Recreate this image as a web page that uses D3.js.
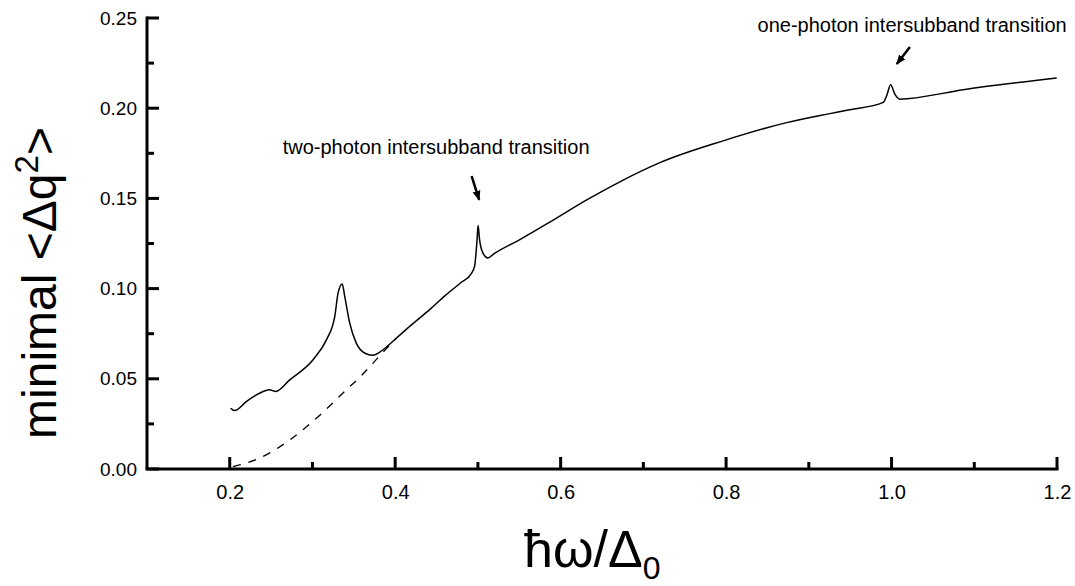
<!DOCTYPE html>
<html>
<head>
<meta charset="utf-8">
<script src="https://cdn.jsdelivr.net/npm/d3@7/dist/d3.min.js"></script>
<style>
  body { margin: 0; background: #fff; }
  svg { display: block; font-family: "Liberation Sans", Arial, sans-serif; }
</style>
</head>
<body>
<svg id="chart"></svg>
<script>
// solid curve: minimal <dq^2> vs hw/D0
const solidX = [0.201, 0.206, 0.220, 0.236, 0.248, 0.2556, 0.2725, 0.3007, 0.317, 0.327, 0.331, 0.336, 0.339,
  0.345, 0.353, 0.363, 0.373, 0.3853, 0.4016, 0.42, 0.442, 0.46, 0.48, 0.4922, 0.496, 0.499, 0.5002, 0.502, 0.506,
  0.512, 0.52, 0.5507, 0.591, 0.631, 0.6716, 0.72, 0.7965, 0.8732, 0.9255, 0.9476, 0.990, 0.994, 0.9989,
  1.004, 1.010, 1.022, 1.0867, 1.1996];
const solidY = [0.0337, 0.0324, 0.0374, 0.042, 0.0439, 0.043, 0.0494, 0.0606, 0.0717, 0.0846, 0.0976, 0.1026, 0.0957,
  0.081, 0.0698, 0.0643, 0.063, 0.0661, 0.0726, 0.080, 0.0885, 0.096, 0.1035, 0.1085, 0.1125, 0.1272, 0.135, 0.1272, 0.1198,
  0.117, 0.1195, 0.1272, 0.1380, 0.1490, 0.1592, 0.1698, 0.1819, 0.192, 0.197, 0.199, 0.2032, 0.2068, 0.213,
  0.2078, 0.2050, 0.2054, 0.2102, 0.2167];

// dashed curve (baseline without transitions)
const dashX = [0.204, 0.236, 0.2725, 0.3068, 0.341, 0.359, 0.377, 0.39, 0.4016];
const dashY = [0.0013, 0.006, 0.0161, 0.029, 0.0439, 0.0517, 0.0606, 0.067, 0.0726];

const xMajor = [0.2, 0.4, 0.6, 0.8, 1.0, 1.2];
const xMinor = [0.3, 0.5, 0.7, 0.9, 1.1];
const yMajor = [0.00, 0.05, 0.10, 0.15, 0.20, 0.25];
const yMinor = [0.025, 0.075, 0.125, 0.175, 0.225];

const width = 1075;
const height = 586;

const svg = d3.select('#chart')
  .attr('width', width)
  .attr('height', height);

const x = d3.scaleLinear().domain([0.1, 1.2]).range([147, 1057]);
const y = d3.scaleLinear().domain([0, 0.25]).range([469, 18]);

// axes: d3 gives the labels, frame and inward ticks drawn below
const xAxis = svg.append('g')
  .attr('transform', `translate(0, ${y(0)})`)
  .call(d3.axisBottom(x).tickValues(xMajor).tickSize(0)
    .tickPadding(16).tickFormat(d3.format('.1f')));

const yAxis = svg.append('g')
  .attr('transform', `translate(${x(0.1)}, 0)`)
  .call(d3.axisLeft(y).tickValues(yMajor).tickSize(0)
    .tickPadding(10).tickFormat(d3.format('.2f')));

svg.selectAll('.domain').remove();
svg.selectAll('.tick text').style('fill', '#000').style('font-size', '19px');
xAxis.selectAll('.tick text').style('font-size', '20px');

const frame = svg.append('g').attr('stroke', '#000').attr('fill', 'none');

frame.append('line')
  .attr('x1', x(0.1) - 1.5).attr('x2', x(1.2) + 1.5)
  .attr('y1', y(0)).attr('y2', y(0))
  .attr('stroke-width', 3);
frame.append('line')
  .attr('x1', x(0.1)).attr('x2', x(0.1))
  .attr('y1', y(0)).attr('y2', y(0.25) - 1.5)
  .attr('stroke-width', 3);

const xTicks = xMajor.map(v => ({ v, len: 12 })).concat(xMinor.map(v => ({ v, len: 7 })));
frame.selectAll('.xt')
  .data(xTicks)
  .join('line')
  .attr('class', 'xt')
  .attr('x1', d => x(d.v)).attr('x2', d => x(d.v))
  .attr('y1', y(0)).attr('y2', d => y(0) - d.len)
  .attr('stroke-width', 3);

const yTicks = yMajor.map(v => ({ v, len: 12 })).concat(yMinor.map(v => ({ v, len: 7 })));
frame.selectAll('.yt')
  .data(yTicks)
  .join('line')
  .attr('class', 'yt')
  .attr('y1', d => y(d.v)).attr('y2', d => y(d.v))
  .attr('x1', x(0.1)).attr('x2', d => x(0.1) + d.len)
  .attr('stroke-width', 3);

const line = d3.line()
  .x(d => x(d[0]))
  .y(d => y(d[1]))
  .curve(d3.curveMonotoneX);

svg.append('path')
  .datum(dashX.map((v, i) => [v, dashY[i]]))
  .attr('d', line)
  .attr('fill', 'none')
  .attr('stroke', '#000')
  .attr('stroke-width', 1.3)
  .attr('stroke-dasharray', '8,8');

svg.append('path')
  .datum(solidX.map((v, i) => [v, solidY[i]]))
  .attr('d', line)
  .attr('fill', 'none')
  .attr('stroke', '#000')
  .attr('stroke-width', 1.5);

// annotations
svg.append('defs').append('marker')
  .attr('id', 'head')
  .attr('viewBox', '0 0 10 10')
  .attr('refX', 9).attr('refY', 5)
  .attr('markerWidth', 4).attr('markerHeight', 4)
  .attr('orient', 'auto')
  .append('path')
  .attr('d', 'M0,1 L10,5 L0,9 z')
  .attr('fill', '#000');

const notes = [
  { text: 'two-photon intersubband transition', tx: 0.264, ty: 0.1744, ax: [0.4924, 0.1624], bx: [0.5015, 0.1492] },
  { text: 'one-photon intersubband transition', tx: 0.838, ty: 0.2422, ax: [1.0222, 0.2339], bx: [1.0063, 0.2245] }
];

notes.forEach(n => {
  svg.append('text')
    .attr('x', x(n.tx))
    .attr('y', y(n.ty))
    .style('font-size', '20px')
    .text(n.text);
  svg.append('line')
    .attr('x1', x(n.ax[0])).attr('y1', y(n.ax[1]))
    .attr('x2', x(n.bx[0])).attr('y2', y(n.bx[1]))
    .attr('stroke', '#000')
    .attr('stroke-width', 2.5)
    .attr('marker-end', 'url(#head)');
});

// axis titles
const yTitle = svg.append('text')
  .attr('transform', 'translate(56, 283) rotate(-90)')
  .attr('text-anchor', 'middle')
  .style('font-size', '48px');
yTitle.append('tspan').text('minimal <Δq');
yTitle.append('tspan').attr('dy', -18).style('font-size', '33px').text('2');
yTitle.append('tspan').attr('dy', 18).text('>');

const xTitle = svg.append('text')
  .attr('x', 524)
  .attr('y', 567)
  .style('font-size', '52px');
xTitle.append('tspan').text('ħω/Δ');
xTitle.append('tspan').attr('dy', 12).style('font-size', '32px').text('0');
</script>
</body>
</html>
